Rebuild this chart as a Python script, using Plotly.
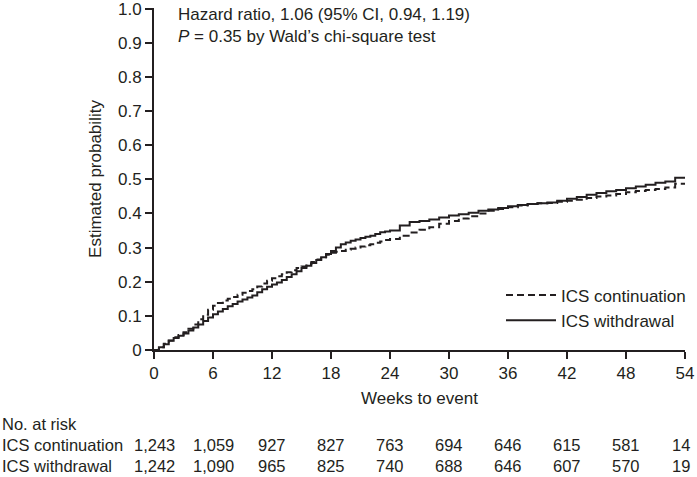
import plotly.graph_objects as go

weeks = [0, 0.5, 1, 1.5, 2, 2.5, 3, 3.5, 4, 4.5, 5, 5.5, 6, 6.5, 7, 7.5, 8, 8.5, 9, 9.5,
         10, 10.5, 11, 11.5, 12, 12.5, 13, 13.5, 14, 14.5, 15, 15.5, 16, 16.5, 17, 17.5,
         18, 18.5, 19, 19.5, 20, 20.5, 21, 21.5, 22, 22.5, 23, 23.5, 24,
         25, 26, 27, 28, 29, 30, 31, 32, 33, 34, 35, 36, 37, 38, 39, 40, 41, 42, 43, 44,
         45, 46, 47, 48, 49, 50, 51, 52, 53, 54]
ics_continuation = [0, 0.008, 0.018, 0.028, 0.037, 0.044, 0.052, 0.062, 0.075, 0.09,
                    0.103, 0.118, 0.13, 0.138, 0.145, 0.15, 0.155, 0.162, 0.168, 0.173,
                    0.178, 0.186, 0.195, 0.203, 0.21, 0.216, 0.222, 0.228, 0.234, 0.24,
                    0.245, 0.252, 0.258, 0.265, 0.272, 0.279, 0.285, 0.288, 0.29, 0.294,
                    0.297, 0.3, 0.303, 0.307, 0.31, 0.314, 0.318, 0.322, 0.325,
                    0.335, 0.344, 0.352, 0.36, 0.37, 0.378, 0.385, 0.392, 0.4, 0.408,
                    0.413, 0.418, 0.423, 0.428, 0.43, 0.431, 0.434, 0.437, 0.44, 0.445,
                    0.45, 0.453, 0.457, 0.462, 0.466, 0.469, 0.472, 0.476, 0.487, 0.487]
ics_withdrawal = [0, 0.008, 0.017, 0.027, 0.035, 0.042, 0.048, 0.057, 0.066, 0.075,
                  0.085, 0.095, 0.105, 0.113, 0.12, 0.128, 0.135, 0.142, 0.148, 0.154,
                  0.16, 0.169, 0.178, 0.185, 0.192, 0.198, 0.205, 0.214, 0.222, 0.231,
                  0.24, 0.247, 0.255, 0.264, 0.272, 0.281, 0.29, 0.3, 0.31, 0.315,
                  0.32, 0.324, 0.328, 0.332, 0.335, 0.34, 0.345, 0.347, 0.35,
                  0.365, 0.375, 0.378, 0.382, 0.388, 0.394, 0.398, 0.402, 0.408, 0.412,
                  0.416, 0.421, 0.425, 0.428, 0.43, 0.432, 0.437, 0.443, 0.448, 0.455,
                  0.46, 0.465, 0.469, 0.474, 0.479, 0.484, 0.49, 0.494, 0.505, 0.505]

risk_weeks = [0, 6, 12, 18, 24, 30, 36, 42, 48, 54]
risk_continuation = ["1,243", "1,059", "927", "827", "763", "694", "646", "615", "581", "14"]
risk_withdrawal = ["1,242", "1,090", "965", "825", "740", "688", "646", "607", "570", "19"]

x_ticks = [0, 6, 12, 18, 24, 30, 36, 42, 48, 54]
y_ticks = [0, 0.1, 0.2, 0.3, 0.4, 0.5, 0.6, 0.7, 0.8, 0.9, 1.0]
y_tick_text = ["0", "0.1", "0.2", "0.3", "0.4", "0.5", "0.6", "0.7", "0.8", "0.9", "1.0"]

INK = "#231f20"
FONT = "Liberation Sans, Arial, sans-serif"
FS = 17
FS_TABLE = 16.5
PLOT_W = 531.0
PLOT_H = 342.0

fig = go.Figure()
fig.add_trace(go.Scatter(x=weeks, y=ics_continuation, mode="lines", name="ICS continuation",
                         line=dict(color=INK, width=2, dash="7px,4px", shape="hv")))
fig.add_trace(go.Scatter(x=weeks, y=ics_withdrawal, mode="lines", name="ICS withdrawal",
                         line=dict(color=INK, width=2, shape="hv")))

def ypaper(py):
    return (350 - py) / PLOT_H

def xpaper(px):
    return (px - 154) / PLOT_W

annotations = []
annotations.append(dict(xref="paper", yref="paper", x=0.041, y=ypaper(3), xanchor="left", yanchor="top",
                        align="left", showarrow=False,
                        text="Hazard ratio, 1.06 (95% CI, 0.94, 1.19)<br><i>P</i> = 0.35 by Wald\u2019s chi-square test",
                        font=dict(size=FS, color=INK, family=FONT)))
annotations.append(dict(xref="paper", yref="paper", x=xpaper(0), y=ypaper(424), xanchor="left", yanchor="middle",
                        showarrow=False, text="No. at risk", font=dict(size=FS_TABLE, color=INK, family=FONT)))
annotations.append(dict(xref="paper", yref="paper", x=xpaper(0), y=ypaper(445), xanchor="left", yanchor="middle",
                        showarrow=False, text="ICS continuation", font=dict(size=FS_TABLE, color=INK, family=FONT)))
annotations.append(dict(xref="paper", yref="paper", x=xpaper(0), y=ypaper(466), xanchor="left", yanchor="middle",
                        showarrow=False, text="ICS withdrawal", font=dict(size=FS_TABLE, color=INK, family=FONT)))
for wk, a, b in zip(risk_weeks, risk_continuation, risk_withdrawal):
    xx = wk / 54.0
    if wk == 54:
        xx = xpaper(681)
    annotations.append(dict(xref="paper", yref="paper", x=xx, y=ypaper(445), xanchor="center", yanchor="middle",
                            showarrow=False, text=a, font=dict(size=FS_TABLE, color=INK, family=FONT)))
    annotations.append(dict(xref="paper", yref="paper", x=xx, y=ypaper(466), xanchor="center", yanchor="middle",
                            showarrow=False, text=b, font=dict(size=FS_TABLE, color=INK, family=FONT)))

fig.update_layout(
    width=697, height=477,
    margin=dict(l=154, r=12, t=8, b=127, autoexpand=False),
    paper_bgcolor="white", plot_bgcolor="white",
    font=dict(family=FONT, size=FS, color=INK),
    showlegend=True,
    legend=dict(xref="container", yref="container", x=691/697, y=1 - 277.5/477,
                xanchor="right", yanchor="top", bgcolor="rgba(0,0,0,0)",
                font=dict(size=FS, color=INK, family=FONT), itemwidth=50, tracegroupgap=0),
    annotations=annotations,
    xaxis=dict(range=[0, 54], tickvals=x_ticks, ticks="outside", ticklen=7, tickwidth=2, tickcolor=INK,
               showline=True, linewidth=2, linecolor=INK, showgrid=False, zeroline=False,
               ticklabeloverflow="allow", automargin=False,
               title=dict(text="Weeks to event", standoff=10, font=dict(size=FS, color=INK)),
               tickfont=dict(size=FS, color=INK)),
    yaxis=dict(range=[0, 1.002], tickvals=y_ticks, ticktext=y_tick_text, ticks="outside", ticklen=7,
               tickwidth=2, tickcolor=INK, showline=True, linewidth=2, linecolor=INK,
               showgrid=False, zeroline=False, ticklabeloverflow="allow", automargin=False,
               title=dict(text="Estimated probability", standoff=12, font=dict(size=FS, color=INK)),
               tickfont=dict(size=FS, color=INK)),
)

fig.write_html("out.html", config={"displayModeBar": False},
               post_script="document.body.style.margin='0';document.body.style.overflow='hidden';")
